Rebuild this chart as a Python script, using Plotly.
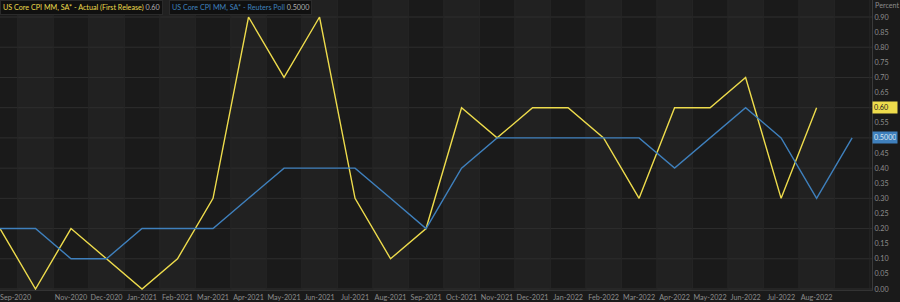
import plotly.graph_objects as go

months = ["Sep-2020", "Oct-2020", "Nov-2020", "Dec-2020", "Jan-2021", "Feb-2021",
          "Mar-2021", "Apr-2021", "May-2021", "Jun-2021", "Jul-2021", "Aug-2021",
          "Sep-2021", "Oct-2021", "Nov-2021", "Dec-2021", "Jan-2022", "Feb-2022",
          "Mar-2022", "Apr-2022", "May-2022", "Jun-2022", "Jul-2022", "Aug-2022",
          "Sep-2022"]
actual = [0.2, 0.0, 0.2, 0.1, 0.0, 0.1, 0.3, 0.9, 0.7, 0.9, 0.3, 0.1,
          0.2, 0.6, 0.5, 0.6, 0.6, 0.5, 0.3, 0.6, 0.6, 0.7, 0.3, 0.6]
poll = [0.2, 0.2, 0.1, 0.1, 0.2, 0.2, 0.2, 0.3, 0.4, 0.4, 0.4, 0.3,
        0.2, 0.4, 0.5, 0.5, 0.5, 0.5, 0.5, 0.4, 0.5, 0.6, 0.5, 0.3, 0.5]
hidden_labels = ["Sep-2020", "Oct-2020", "Sep-2022"]
y_ticks = [round(i * 0.05, 2) for i in range(19)]
grid_levels = [round(i * 0.1, 1) for i in range(10)]

actual_name = "US Core CPI MM, SA* - Actual (First Release)"
poll_name = "US Core CPI MM, SA* - Reuters Poll"

YELLOW = "#eedc4c"
BLUE = "#3f80bd"
BG = "#1a1a1a"
BAND = "#212121"
GRID = "#2e2e2e"
TXT = "#8c8c8c"
FONT = "Lato"
FS = 7.2

x_idx = list(range(len(months)))

fig = go.Figure()
fig.add_trace(go.Scatter(x=x_idx[:len(actual)], y=actual, mode="lines", name=actual_name,
                         line=dict(color=YELLOW, width=1.4)))
fig.add_trace(go.Scatter(x=x_idx[:len(poll)], y=poll, mode="lines", name=poll_name,
                         line=dict(color=BLUE, width=1.4)))

shapes = []
for i in x_idx:
    if i % 2 == 1:
        shapes.append(dict(type="rect", xref="x", yref="paper", x0=i - 0.5, x1=i + 0.5,
                           y0=0, y1=1, fillcolor=BAND, line=dict(width=0), layer="below"))
for g in grid_levels:
    shapes.append(dict(type="line", xref="paper", yref="y", x0=0, x1=1, y0=g, y1=g,
                       line=dict(color=GRID, width=1), layer="below"))
for i in x_idx:
    shapes.append(dict(type="line", xref="x", yref="paper", x0=i + 0.5, x1=i + 0.5,
                       y0=0, y1=1, line=dict(color="#262626", width=1), layer="below"))

ticktext = ["" if m in hidden_labels else m for m in months]
last_vals = {round(actual[-1], 2), round(poll[-1], 2)}
yticktext = ["" if v in last_vals else f"{v:.2f}" for v in y_ticks]

annotations = [
    dict(xref="paper", yref="paper", x=0, y=1, xanchor="left", yanchor="top",
         text=f'<span style="color:{YELLOW}">{actual_name}</span> <span style="color:#b0b0b0">{actual[-1]:.2f}</span>',
         showarrow=False, font=dict(family=FONT, size=FS), bgcolor="#101010",
         bordercolor="#2a2a2a", borderwidth=1, borderpad=2),
    dict(xref="paper", yref="paper", x=169 / 872, y=1, xanchor="left", yanchor="top",
         text=f'<span style="color:{BLUE}">{poll_name}</span> <span style="color:#b0b0b0">{poll[-1]:.4f}</span>',
         showarrow=False, font=dict(family=FONT, size=FS), bgcolor="#101010",
         bordercolor="#2a2a2a", borderwidth=1, borderpad=2),
    dict(xref="paper", yref="paper", x=1, y=1, xanchor="left", yanchor="top",
         text="Percent", showarrow=False, font=dict(family=FONT, size=FS, color=TXT),
         xshift=1, yshift=1),
    dict(xref="paper", yref="y", x=1, y=actual[-1], xanchor="left", yanchor="middle",
         text=f"{actual[-1]:.2f}", showarrow=False, bgcolor=YELLOW,
         font=dict(family=FONT, size=FS, color="#222222"), borderpad=1, width=22, align="left"),
    dict(xref="paper", yref="y", x=1, y=poll[-1], xanchor="left", yanchor="middle",
         text=f"{poll[-1]:.4f}", showarrow=False, bgcolor=BLUE,
         font=dict(family=FONT, size=FS, color="#dde6f0"), borderpad=1, width=22, align="left"),
    dict(xref="x", yref="paper", x=0, y=0, xanchor="left", yanchor="top",
         text=months[0], showarrow=False, font=dict(family=FONT, size=FS, color=TXT),
         yshift=-1, xshift=-2),
]

fig.update_layout(
    width=900, height=302,
    margin=dict(l=0, r=28, t=0, b=12),
    paper_bgcolor=BG, plot_bgcolor=BG,
    showlegend=False,
    shapes=shapes,
    annotations=annotations,
    xaxis=dict(range=[0, 24.56], tickmode="array", tickvals=x_idx, ticktext=ticktext,
               showgrid=False, zeroline=False, ticks="",
               tickfont=dict(family=FONT, size=FS, color=TXT),
               showline=True, linecolor="#333333", linewidth=1,
               tickangle=0, automargin=False),
    yaxis=dict(range=[-0.0033, 0.9563], side="right", tickmode="array", tickvals=y_ticks,
               ticktext=yticktext, showgrid=False, zeroline=False,
               showline=True, linecolor="#3a3a3a", linewidth=1, ticks="",
               tickfont=dict(family=FONT, size=FS, color=TXT), automargin=False),
)

fig.write_html("out.html")
